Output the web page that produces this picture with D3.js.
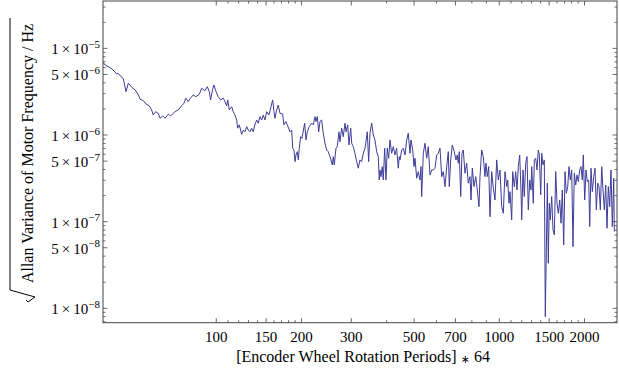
<!DOCTYPE html>
<html>
<head>
<meta charset="utf-8">
<script src="https://cdn.jsdelivr.net/npm/d3@7"></script>
<style>
  body { margin: 0; background: #fff; }
  svg { display: block; }
  text { font-family: "Liberation Serif", "Times New Roman", serif; fill: #000; }
</style>
</head>
<body>
<div id="chart"></div>
<script>
const width = 619;
const height = 376;

// averaging time (x) and Allan deviation (y)
const periods = [
  39.8, 40.5, 42.1, 43.2, 44.5, 45.0, 46.3, 46.9, 48.0, 48.9,
  50.3, 51.7, 53.1, 53.8, 55.3, 56.5, 58.0, 59.1, 59.9, 61.1,
  62.4, 63.3, 64.7, 65.9, 67.7, 69.0, 71.4, 73.4, 75.4, 76.9,
  78.1, 79.6, 80.7, 82.9, 84.7, 87.1, 88.8, 91.2, 93.0, 94.5,
  95.5, 97.1, 98.1, 99.8, 101.6, 103.7, 105.9, 107.4, 108.9, 109.8,
  111.2, 113.4, 114.8, 116.4, 118.1, 119.0, 120.6, 123.0, 124.6, 126.3,
  128.1, 129.8, 131.5, 133.3, 135.1, 136.9, 138.9, 140.7, 142.7, 144.7,
  146.6, 148.6, 150.7, 153.5, 156.1, 158.2, 160.0, 161.2, 163.5, 165.6,
  167.9,
  171.6, 173.4, 176.3, 178.2, 182.2, 184.7, 186.3, 188.2, 189.8, 191.3,
  193.4, 194.9, 196.5, 198.7, 200.9, 205.3, 207.5, 209.7, 213.1, 217.4,
  220.2, 223.3, 225.1, 227.5, 230.1, 232.5, 235.7, 238.8, 242.2, 245.5,
  248.7, 252.2, 254.3, 257.0, 259.1, 261.2, 264.8, 267.6, 271.4, 273.6,
  277.4, 281.0, 285.0, 287.3, 291.3, 294.4, 298.5, 301.0, 304.9, 309.1,
  313.4, 317.5, 321.9, 326.4, 330.7, 335.3, 338.0, 341.6, 345.5, 349.2,
  354.1, 358.7, 363.7, 368.8, 373.6, 376.7, 378.8, 381.9, 386.0, 389.1,
  393.6, 397.7, 402.0, 406.6, 410.9, 416.6, 422.1, 428.0, 433.9, 439.6,
  443.3,
  445.8, 452.0, 458.0, 464.3, 470.8, 476.9, 483.6, 487.5, 494.4, 499.6,
  503.7, 510.7, 517.4, 524.5, 528.8, 531.8, 538.8, 546.3, 553.9, 561.1,
  569.0, 576.9, 584.5, 592.6, 600.9, 608.7, 617.2, 625.8, 634.0, 642.8,
  651.8, 660.3, 665.7, 673.3, 682.1, 693.3, 703.0, 710.5, 716.3, 722.2,
  730.5, 738.2, 746.0, 756.5, 767.0, 777.0, 787.9, 794.3, 802.8, 813.9,
  825.3, 836.1, 847.7, 854.6, 866.5, 877.9, 890.1, 897.3, 906.9, 917.3,
  927.1, 940.0, 952.3, 965.6, 979.0, 991.9, 1005.7, 1019.7, 1033.1,
  1047.5, 1062.0, 1070.8, 1082.1, 1090.9, 1106.1, 1115.2, 1129.8, 1142.7, 1154.9,
  1167.1, 1180.5, 1193.0, 1199.9, 1212.6, 1225.6, 1239.6, 1252.8, 1266.1, 1280.6,
  1294.1, 1301.6, 1318.6, 1329.4, 1344.7, 1359.0, 1373.3, 1384.7, 1400.5, 1411.9,
  1426.9, 1442.1, 1453.8, 1465.8, 1477.7, 1489.8, 1502.0, 1514.2, 1531.6, 1547.9,
  1564.4, 1582.3, 1599.2, 1616.1, 1634.6, 1651.9, 1669.5, 1688.7, 1706.7, 1724.8,
  1744.6, 1763.0, 1781.8, 1802.3, 1821.4, 1840.8, 1861.9, 1881.7, 1901.6, 1923.4,
  1943.8, 1964.5, 1980.5, 2003.2, 2024.5, 2046.1, 2069.6, 2086.4, 2108.6, 2131.1,
  2155.5, 2178.5, 2201.7, 2227.0, 2250.5, 2274.4, 2300.5, 2324.9, 2349.7, 2376.6,
  2401.9, 2427.3, 2455.1, 2481.2, 2507.7, 2536.4, 2548.9
];

const allanDev = [
  6.91e-6, 6.43e-6, 5.99e-6, 5.63e-6, 5.07e-6, 5.16e-6, 4.64e-6, 4.52e-6, 3.17e-6, 3.96e-6,
  3.56e-6, 3.31e-6, 2.90e-6, 2.59e-6, 2.49e-6, 2.28e-6, 2.17e-6, 1.95e-6, 1.70e-6, 1.86e-6,
  1.78e-6, 1.56e-6, 1.66e-6, 1.56e-6, 1.74e-6, 1.66e-6, 1.86e-6, 1.95e-6, 2.17e-6, 2.33e-6,
  2.66e-6, 2.43e-6, 2.61e-6, 2.90e-6, 2.77e-6, 2.95e-6, 3.46e-6, 3.25e-6, 3.61e-6, 3.17e-6,
  2.54e-6, 3.37e-6, 3.78e-6, 3.17e-6, 2.77e-6, 2.54e-6, 2.66e-6, 2.43e-6, 2.17e-6, 2.54e-6,
  1.95e-6, 2.12e-6, 1.86e-6, 1.70e-6, 1.49e-6, 1.20e-6, 1.31e-6, 1.02e-6, 1.14e-6, 1.09e-6,
  1.25e-6, 1.14e-6, 1.09e-6, 1.20e-6, 1.09e-6, 1.31e-6, 1.49e-6, 1.37e-6, 1.63e-6, 1.49e-6,
  1.70e-6, 1.49e-6, 1.86e-6, 1.70e-6, 2.12e-6, 2.54e-6, 1.86e-6, 1.56e-6, 1.95e-6, 2.22e-6,
  1.78e-6,
  1.75e-6, 1.31e-6, 1.43e-6, 1.31e-6, 1.09e-6, 1.14e-6, 7.03e-7, 6.72e-7, 4.93e-7, 5.89e-7,
  6.43e-7, 5.16e-7, 7.03e-7, 9.57e-7, 9.18e-7, 1.37e-6, 8.77e-7, 1.09e-6, 1.25e-6, 1.37e-6,
  1.31e-6, 1.63e-6, 1.43e-6, 1.63e-6, 1.09e-6, 1.43e-6, 1.49e-6, 1.05e-6, 8.03e-7, 6.72e-7,
  6.43e-7, 5.63e-7, 5.16e-7, 4.52e-7, 5.63e-7, 4.52e-7, 7.03e-7, 7.34e-7, 1.09e-6, 8.38e-7,
  1.20e-6, 9.57e-7, 1.37e-6, 1.09e-6, 1.31e-6, 7.68e-7, 1.20e-6, 8.03e-7, 7.34e-7, 6.16e-7,
  4.93e-7, 4.14e-7, 5.16e-7, 4.93e-7, 6.16e-7, 7.03e-7, 8.38e-7, 1.09e-6, 4.93e-7, 1.05e-6,
  1.37e-6, 1.00e-6, 8.77e-7, 6.43e-7, 5.63e-7, 3.03e-7, 3.95e-7, 3.31e-7, 4.32e-7, 3.03e-7,
  7.03e-7, 3.03e-7, 7.03e-7, 5.40e-7, 8.77e-7, 6.16e-7, 7.34e-7, 5.89e-7, 7.03e-7, 4.14e-7,
  5.63e-7,
  5.16e-7, 6.72e-7, 7.03e-7, 5.89e-7, 8.77e-7, 1.05e-6, 6.16e-7, 8.77e-7, 6.72e-7, 4.32e-7,
  5.40e-7, 3.17e-7, 3.78e-7, 3.03e-7, 4.32e-7, 1.95e-7, 6.16e-7, 8.03e-7, 5.40e-7, 7.34e-7,
  3.46e-7, 3.95e-7, 3.95e-7, 4.14e-7, 5.89e-7, 6.16e-7, 7.03e-7, 3.31e-7, 3.78e-7, 2.54e-7,
  4.32e-7, 6.43e-7, 2.54e-7, 5.16e-7, 7.68e-7, 6.43e-7, 5.16e-7, 5.89e-7, 4.73e-7, 6.43e-7,
  1.95e-7, 6.16e-7, 6.72e-7, 3.62e-7, 4.73e-7, 2.78e-7, 3.31e-7, 1.78e-7, 4.14e-7, 2.54e-7,
  3.31e-7, 2.32e-7, 1.49e-7, 3.31e-7, 6.72e-7, 5.63e-7, 3.31e-7, 4.73e-7, 3.31e-7, 4.32e-7,
  1.14e-7, 3.78e-7, 2.43e-7, 1.78e-7, 5.16e-7, 3.03e-7, 3.95e-7, 1.49e-7, 1.25e-7,
  3.78e-7, 2.54e-7, 3.03e-7, 1.63e-7, 2.22e-7, 1.05e-7, 3.78e-7, 2.54e-7, 3.78e-7, 2.32e-7,
  4.32e-7, 5.89e-7, 2.32e-7, 1.05e-7, 3.95e-7, 1.95e-7, 4.73e-7, 5.63e-7, 1.37e-7, 3.03e-7,
  2.32e-7, 4.32e-7, 1.63e-7, 5.16e-7, 5.40e-7, 3.95e-7, 6.72e-7, 5.89e-7, 2.04e-7, 6.16e-7,
  4.52e-7, 5.16e-7, 8.02e-9, 4.51e-8, 2.78e-7, 3.31e-8, 1.63e-7, 1.05e-7, 1.95e-7, 8.03e-8,
  7.03e-8, 3.78e-7, 1.63e-7, 1.25e-7, 1.78e-7, 9.60e-8, 2.32e-7, 5.39e-8, 3.78e-7, 2.13e-7,
  2.54e-7, 4.32e-7, 3.03e-7, 3.95e-7, 5.15e-8, 3.62e-7, 2.65e-7, 3.46e-7, 2.90e-7, 3.95e-7,
  4.32e-7, 3.03e-7, 5.89e-7, 1.78e-7, 3.95e-7, 2.90e-7, 3.03e-7, 8.77e-8, 4.14e-7, 2.22e-7,
  3.31e-7, 4.14e-7, 1.37e-7, 2.78e-7, 2.54e-7, 1.37e-7, 4.32e-7, 2.32e-7, 1.37e-7, 2.65e-7,
  8.41e-8, 2.54e-7, 1.49e-7, 3.95e-7, 8.77e-8, 3.17e-7, 7.68e-8
];

const xTickValues = [100, 150, 200, 300, 500, 700, 1000, 1500, 2000];
const xMinorValues = [110, 120, 130, 140, 160, 170, 180, 190, 400, 600, 800, 900,
  1100, 1200, 1300, 1400, 1600, 1700, 1800, 1900];
const yTickValues = [1e-5, 5e-6, 1e-6, 5e-7, 1e-7, 5e-8, 1e-8];

const xTitle = "[Encoder Wheel Rotation Periods]";
const xTitleFactor = "64";
const yTitle = "Allan Variance of Motor Frequency / Hz";

if (periods.length !== allanDev.length) console.error("length mismatch", periods.length, allanDev.length);

const frame = { left: 103, right: 617, top: 1, bottom: 322.7 };
const frameColor = "#444";

const svg = d3.select("#chart")
  .append("svg")
  .attr("width", width)
  .attr("height", height);

const x = d3.scaleLog()
  .domain([39.8, 2605])
  .range([frame.left, frame.right]);

const y = d3.scaleLog()
  .domain([6.823e-9, 3.523e-5])
  .range([frame.bottom, frame.top]);

// minor y ticks: 2..9 in each decade
const yMinorValues = [];
for (let e = -9; e <= -5; e++) {
  for (let k = 1; k <= 9; k++) {
    const v = k * Math.pow(10, e);
    if (v >= y.domain()[0] && v <= y.domain()[1] && !yTickValues.some(t => Math.abs(t - v) / v < 1e-6)) yMinorValues.push(v);
  }
}

const major = 4.5, minor = 2.5;

// ticks (pointing inward on all four sides)
const ticksG = svg.append("g")
  .attr("stroke", frameColor)
  .attr("stroke-width", 0.8);

const xAll = xTickValues.map(v => [v, major]).concat(xMinorValues.map(v => [v, minor]));
xAll.forEach(([v, len]) => {
  const px = x(v);
  ticksG.append("line").attr("x1", px).attr("x2", px).attr("y1", frame.bottom).attr("y2", frame.bottom - len);
  ticksG.append("line").attr("x1", px).attr("x2", px).attr("y1", frame.top).attr("y2", frame.top + len);
});

const yAll = yTickValues.map(v => [v, major]).concat(yMinorValues.map(v => [v, minor]));
yAll.forEach(([v, len]) => {
  const py = y(v);
  ticksG.append("line").attr("x1", frame.left).attr("x2", frame.left + len).attr("y1", py).attr("y2", py);
  ticksG.append("line").attr("x1", frame.right).attr("x2", frame.right - len).attr("y1", py).attr("y2", py);
});

// data line
const linea = d3.line()
  .x(d => x(d[0]))
  .y(d => y(d[1]));

svg.append("path")
  .datum(d3.zip(periods, allanDev))
  .attr("fill", "none")
  .attr("stroke", "#3d3d99")
  .attr("stroke-width", 1)
  .attr("stroke-linejoin", "round")
  .attr("d", linea);

// frame
svg.append("rect")
  .attr("x", frame.left)
  .attr("y", frame.top)
  .attr("width", frame.right - frame.left)
  .attr("height", frame.bottom - frame.top)
  .attr("fill", "none")
  .attr("stroke", frameColor)
  .attr("stroke-width", 1);

// x tick labels
svg.append("g").selectAll("text")
  .data(xTickValues)
  .join("text")
  .attr("x", d => x(d))
  .attr("y", 341.5)
  .attr("text-anchor", "middle")
  .style("font-size", "15px")
  .text(d => d);

// y tick labels as m×10^e
const yLab = svg.append("g");
yTickValues.forEach(v => {
  const e = Math.floor(Math.log10(v) + 1e-9);
  const m = Math.round(v / Math.pow(10, e));
  const t = yLab.append("text")
    .attr("x", 100)
    .attr("y", y(v) + 6)
    .attr("text-anchor", "end")
    .style("font-size", "15px");
  t.append("tspan").text(m + "\u2009\u00d7\u200910");
  t.append("tspan")
    .attr("dy", -6.5)
    .style("font-size", "11px")
    .text("\u2212" + Math.abs(e));
});

// axis titles
const xt = svg.append("text")
  .attr("x", 363)
  .attr("y", 361.5)
  .attr("text-anchor", "middle")
  .style("font-size", "16px");
xt.append("tspan").text(xTitle + " ");
xt.append("tspan").attr("dy", 1).style("font-size", "11px").style("font-family", "DejaVu Sans").text("\u2217");
xt.append("tspan").attr("dy", -1).text(" " + xTitleFactor);

svg.append("text")
  .attr("transform", "translate(33,153.5) rotate(-90)")
  .attr("text-anchor", "middle")
  .style("font-size", "16px")
  .text(yTitle);

// radical sign over the rotated y title
svg.append("path")
  .attr("d", "M10,18 L10,290 L35,297 L28,302 L26,300")
  .attr("fill", "none")
  .attr("stroke", "#000")
  .attr("stroke-width", 1);
</script>
</body>
</html>
